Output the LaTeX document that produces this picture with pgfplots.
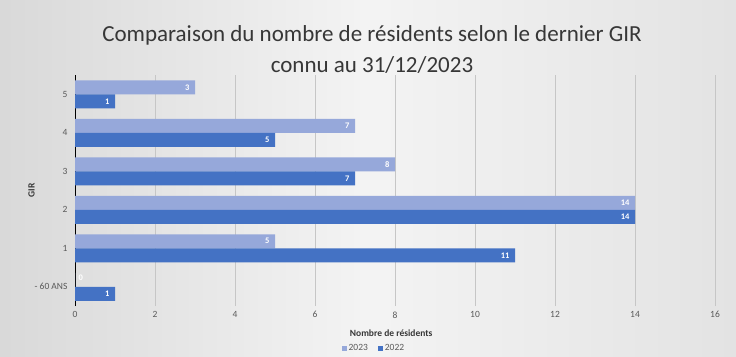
\documentclass[border=0pt]{standalone}
\usepackage{pgfplots}
\pgfplotsset{compat=1.18}
\usepackage{fontspec}
\setmainfont{Carlito}
\definecolor{c23}{RGB}{150,168,218}
\definecolor{c22}{RGB}{68,114,196}
\definecolor{txt}{RGB}{89,89,89}
\definecolor{ttl}{RGB}{55,55,55}
\begin{document}
\begin{tikzpicture}
\useasboundingbox (0pt,0pt) rectangle (736pt,356pt);
\shade[left color=gray!30, right color=gray!22, middle color=gray!9] (0pt,0pt) rectangle (736pt,356pt);
\node[font=\fontsize{23}{31}\selectfont, text=ttl, align=center] at (372pt,306pt)
  {Comparaison du nombre de résidents selon le dernier GIR\\connu au 31/12/2023};
\begin{axis}[
    at={(75pt,50pt)}, anchor=south west,
    scale only axis, width=640pt, height=231pt,
    xbar, bar width=14pt,
    xmin=0, xmax=16, xtick={0,2,...,16},
    ymin=-0.5, ymax=5.5, ytick={0,...,5},
    yticklabels={- 60 ANS,1,2,3,4,5},
    xmajorgrids, grid style={gray!45},
    axis x line*=bottom, axis y line*=left,
    x axis line style={draw=none},
    y axis line style={black, line width=0.8pt},
    major tick length=0pt,
    tick label style={font=\fontsize{9.5}{11}\selectfont, text=txt},
    xticklabel style={yshift=-2pt},
    yticklabel style={xshift=-4pt},
    /pgf/number format/assume math mode=true,
    xlabel={\textbf{Nombre de résidents}},
    ylabel={\textbf{GIR}},
    label style={font=\fontsize{9.5}{11}\selectfont, text=ttl},
    xlabel style={at={(axis description cs:0.494,0)}, anchor=center, yshift=-27pt},
    ylabel style={yshift=-7pt},
    legend style={at={(axis description cs:0.467,-0.182)}, anchor=center,
      legend columns=-1, draw=none, fill=none,
      font=\fontsize{9.5}{11}\selectfont, text=txt,
      /tikz/every even column/.append style={column sep=8pt}},
    legend image code/.code={\fill[#1] (0pt,-2.5pt) rectangle (5pt,2.5pt);},
    nodes near coords,
    nodes near coords style={font=\fontsize{8.5}{10}\selectfont\bfseries, text=white,
      anchor=east, xshift=-2pt},
]
\addplot[fill=c23, draw=none, bar shift=7pt] coordinates {
  (5,1) (14,2) (8,3) (7,4) (3,5)};
\addlegendentry{2023}
\addplot[fill=c22, draw=none, bar shift=-7pt] coordinates {
  (1,0) (11,1) (14,2) (7,3) (5,4) (1,5)};
\addlegendentry{2022}
\addplot[fill=c23, draw=none, bar shift=7pt, forget plot,
  nodes near coords style={anchor=west, xshift=2pt, yshift=2pt}] coordinates {
  (0,0)};
\end{axis}
\end{tikzpicture}
\end{document}
